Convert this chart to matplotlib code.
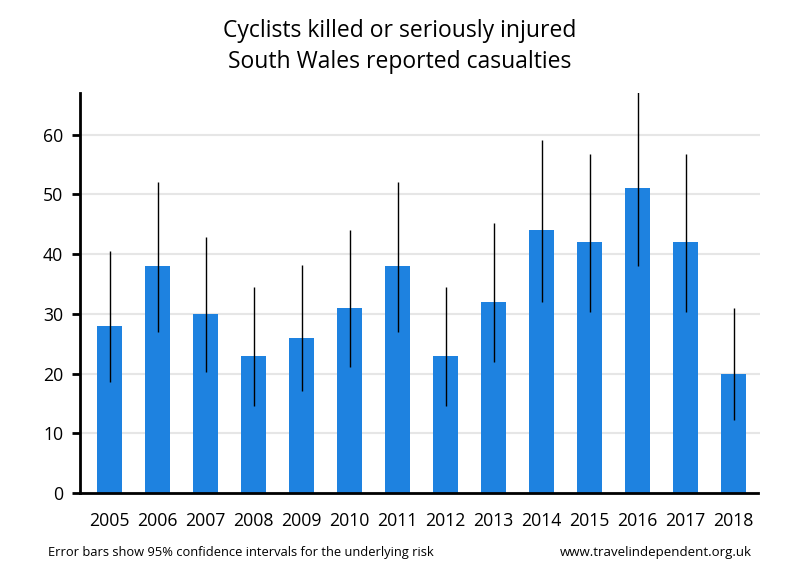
import matplotlib
matplotlib.use("Agg")
import matplotlib.pyplot as plt
import numpy as np

plt.rcParams['font.family'] = ['Open Sans', 'DejaVu Sans']

years = ["2005", "2006", "2007", "2008", "2009", "2010", "2011",
         "2012", "2013", "2014", "2015", "2016", "2017", "2018"]
casualties = [28, 38, 30, 23, 26, 31, 38, 23, 32, 44, 42, 51, 42, 20]
ci_low = [18.6, 26.9, 20.2, 14.6, 17.0, 21.1, 26.9, 14.6, 21.9, 32.0, 30.3, 38.0, 30.3, 12.2]
ci_high = [40.5, 52.1, 42.8, 34.5, 38.1, 44.0, 52.1, 34.5, 45.2, 59.1, 56.8, 67.1, 56.8, 30.9]

fig = plt.figure(figsize=(8, 5.8), dpi=100)
ax = fig.add_axes([0.1, 0.15, 0.85, 0.69])

x = np.arange(len(years))
ax.bar(x, casualties, width=0.52, color="#1e82e0", zorder=2)
ax.vlines(x, ci_low, ci_high, color="black", linewidth=1, zorder=3)

ax.set_xlim(-0.62, 13.55)
ax.set_ylim(0, 67)
ax.set_yticks([0, 10, 20, 30, 40, 50, 60])
ax.set_xticks(x)
ax.set_xticklabels(years)
ax.tick_params(axis="x", length=0, pad=14, labelsize=12.7)
ax.tick_params(axis="y", length=6, width=2, pad=6, labelsize=12.7)
ax.grid(axis="y", color="#e6e6e6", linewidth=1.5, zorder=0)
ax.set_axisbelow(True)

for side in ["top", "right"]:
    ax.spines[side].set_visible(False)
ax.spines["left"].set_linewidth(2)
ax.spines["bottom"].set_linewidth(2)
ax.spines["bottom"].set_bounds(-0.62, 13.5)

fig.text(0.5, 0.946, "Cyclists killed or seriously injured", ha="center", va="center", fontsize=16.5)
fig.text(0.5, 0.893, "South Wales reported casualties", ha="center", va="center", fontsize=16.5)
fig.text(0.06, 0.047, "Error bars show 95% confidence intervals for the underlying risk",
         ha="left", va="center", fontsize=9.3)
fig.text(0.94, 0.047, "www.travelindependent.org.uk", ha="right", va="center", fontsize=9.5)

fig.savefig("out.png", dpi=100)
